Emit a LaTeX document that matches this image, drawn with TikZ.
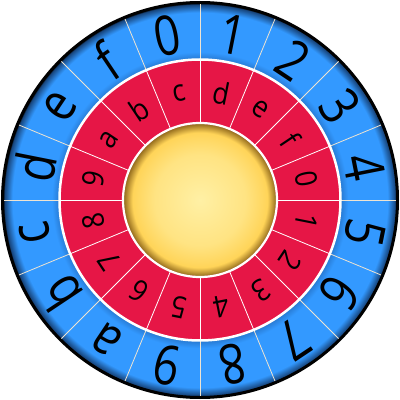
\documentclass[tikz,border=0pt]{standalone}
\usepackage{fontspec}
\setmainfont{Open Sans}
\definecolor{wblue}{RGB}{51,153,255}
\definecolor{wbluedeep}{RGB}{22,66,120}
\definecolor{wbluein}{RGB}{38,118,205}
\definecolor{wred}{RGB}{230,22,70}
\definecolor{ylight}{RGB}{255,240,165}
\definecolor{ymid}{RGB}{255,212,88}
\definecolor{ydark}{RGB}{150,110,30}
\definecolor{beige}{RGB}{238,228,210}
\pgfdeclareradialshading{bluering}{\pgfpoint{0bp}{0bp}}{color(0bp)=(wbluein); color(17.75bp)=(wbluein); color(18.8bp)=(wblue); color(23.8bp)=(wblue); color(24.85bp)=(wbluedeep); color(25bp)=(black); color(50bp)=(black)}
\pgfdeclareradialshading{sun}{\pgfpoint{0bp}{0bp}}{color(0bp)=(ylight); color(15bp)=(ylight!55!ymid); color(22.2bp)=(ymid); color(25bp)=(ydark); color(50bp)=(ydark)}
\tikzset{
  outerlbl/.style={font=\fontsize{55}{55}\selectfont, text=black, inner sep=0pt, anchor=center},
  innerlbl/.style={font=\fontsize{30}{30}\selectfont, text=black, inner sep=0pt, anchor=center},
  outerdiv/.style={draw=beige, line width=0.8pt},
  innerdiv/.style={draw=white, line width=0.8pt}
}
\begin{document}
\begin{tikzpicture}[x=1pt,y=1pt]
\useasboundingbox (0,0) rectangle (400,400);
\begin{scope}[shift={(200,200)}]
  \shade[shading=bluering] (0,0) circle (197);
  \draw[black, line width=3pt] (0,0) circle (197.5);
  \fill[wred] (0,0) circle (140);
  \foreach \k in {0,...,15}{
    \draw[outerdiv] (90+22.5*\k:141) -- (90+22.5*\k:196);
    \draw[innerdiv] (90+22.5*\k:77) -- (90+22.5*\k:140);
  }
  \draw[white, line width=2.5pt] (0,0) circle (140.5);
  \shade[shading=sun] (0,0) circle (76);
  \draw[white, line width=2.2pt] (0,0) circle (77);
  \foreach \t [count=\i from 0] in {0,1,2,3,4,5,6,7,8,9,a,b,c,d,e,f}
    \node[outerlbl, rotate={11.25-22.5*\i}, xscale=0.82] (o\i) at ({101.25-22.5*\i}:168) {\t};
  \foreach \t [count=\i from 0] in {c,d,e,f,0,1,2,3,4,5,6,7,8,9,a,b}
    \node[innerlbl, rotate={11.25-22.5*\i}, xscale=0.9] (n\i) at ({101.25-22.5*\i}:109) {\t};
\end{scope}
\end{tikzpicture}
\end{document}
